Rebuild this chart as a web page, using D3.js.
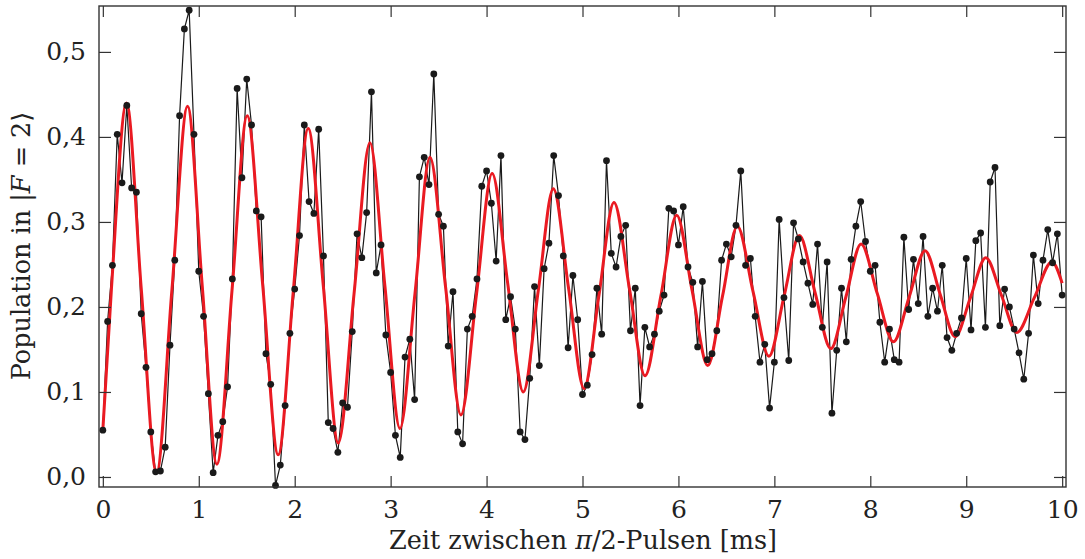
<!DOCTYPE html>
<html>
<head>
<meta charset="utf-8">
<script src="https://cdn.jsdelivr.net/npm/d3@7/dist/d3.min.js"></script>
<style>
  body { margin: 0; background: #fff; }
  svg text { font-family: "DejaVu Serif", "Liberation Serif", serif; fill: #222; }
</style>
</head>
<body>
<svg id="chart" width="1085" height="559"></svg>
<script>
// measured population, one point every 0.05 ms from 0 to 10 ms
var stepMs = 0.05;
var population = [
  0.055,0.183,0.249,0.403,0.346,0.437,0.340,0.335,0.192,0.129,
  0.053,0.006,0.007,0.035,0.155,0.255,0.425,0.527,0.549,0.403,
  0.242,0.189,0.098,0.005,0.049,0.065,0.106,0.233,0.457,0.352,
  0.468,0.414,0.313,0.306,0.145,0.109,-0.010,0.014,0.084,0.169,
  0.221,0.284,0.414,0.324,0.310,0.409,0.260,0.064,0.057,0.029,
  0.087,0.082,0.171,0.286,0.258,0.311,0.453,0.240,0.273,0.167,
  0.123,0.049,0.023,0.141,0.162,0.091,0.353,0.376,0.344,0.474,
  0.309,0.295,0.154,0.218,0.053,0.039,0.174,0.189,0.233,0.342,
  0.360,0.322,0.254,0.378,0.185,0.212,0.174,0.053,0.044,0.116,
  0.224,0.131,0.245,0.275,0.378,0.331,0.260,0.152,0.237,0.185,
  0.097,0.108,0.144,0.222,0.168,0.372,0.263,0.247,0.283,0.296,
  0.172,0.222,0.084,0.176,0.153,0.168,0.195,0.214,0.316,0.313,
  0.273,0.318,0.247,0.229,0.153,0.230,0.138,0.145,0.172,0.255,
  0.274,0.259,0.296,0.360,0.249,0.257,0.189,0.135,0.156,0.081,
  0.135,0.303,0.211,0.137,0.299,0.280,0.253,0.228,0.203,0.274,
  0.176,0.253,0.075,0.149,0.222,0.159,0.256,0.295,0.324,0.277,
  0.242,0.249,0.182,0.135,0.174,0.138,0.135,0.282,0.197,0.256,
  0.204,0.283,0.189,0.222,0.195,0.249,0.164,0.149,0.169,0.187,
  0.257,0.173,0.278,0.287,0.176,0.347,0.364,0.178,0.221,0.200,
  0.174,0.146,0.115,0.169,0.261,0.204,0.255,0.291,0.252,0.286,
  0.214
];

// fitted curve, read at its extrema and crossings
var fitTime = [0,0.09,0.247,0.40,0.56,0.72,0.883,1.036,1.189,1.347,1.505,1.667,1.828,1.985,
  2.141,2.298,2.454,2.619,2.784,2.94,3.097,3.254,3.41,3.572,3.733,3.895,4.058,4.22,4.383,
  4.54,4.696,4.856,5.016,5.172,5.328,5.49,5.652,5.817,5.982,6.143,6.305,6.46,6.614,6.778,
  6.943,7.102,7.261,7.424,7.588,7.746,7.904,8.072,8.241,8.406,8.571,8.728,8.884,9.044,
  9.204,9.366,9.527,9.71,9.893,10];
var fitValue = [0.055,0.222,0.440,0.222,0.005,0.220,0.436,0.225,0.015,0.220,0.425,0.225,0.026,0.218,
  0.410,0.225,0.040,0.216,0.393,0.225,0.057,0.216,0.376,0.224,0.073,0.215,0.357,0.228,0.100,
  0.220,0.339,0.221,0.104,0.214,0.323,0.221,0.119,0.213,0.308,0.219,0.131,0.213,0.295,0.218,
  0.142,0.213,0.284,0.217,0.151,0.212,0.274,0.216,0.159,0.212,0.266,0.215,0.165,0.211,
  0.258,0.214,0.170,0.211,0.253,0.228];

var xTicks = [0,1,2,3,4,5,6,7,8,9,10];
var yTicks = [0,0.1,0.2,0.3,0.4,0.5];

var pL = 99, pT = 6, pR = 1066, pB = 487;
var svg = d3.select("#chart");

var x = d3.scaleLinear().domain([-0.04, 10.04]).range([pL, pR]);
var y = d3.scaleLinear().domain([-0.0118, 0.554]).range([pB, pT]);

var de = d3.formatLocale({decimal: ",", thousands: ".", grouping: [3], currency: ["", "€"]});
var fy = de.format(".1f");

var points = population.map(function(v, i){ return {t: i*stepMs, v: v}; });
var fit = fitTime.map(function(t, i){ return {t: t, v: fitValue[i]}; });

svg.append("clipPath").attr("id", "clip")
  .append("rect").attr("x", pL).attr("y", pT - 4).attr("width", pR-pL).attr("height", pB-pT+8);

var plot = svg.append("g").attr("clip-path", "url(#clip)");

plot.append("path")
  .datum(points)
  .attr("fill", "none")
  .attr("stroke", "#1a1a1a")
  .attr("stroke-width", 1.2)
  .attr("d", d3.line().x(function(d){ return x(d.t); }).y(function(d){ return y(d.v); }));

plot.append("path")
  .datum(fit)
  .attr("fill", "none")
  .attr("stroke", "#ea1a22")
  .attr("stroke-width", 3)
  .attr("d", d3.line().curve(d3.curveMonotoneX).x(function(d){ return x(d.t); }).y(function(d){ return y(d.v); }));

plot.selectAll("circle")
  .data(points)
  .enter().append("circle")
  .attr("cx", function(d){ return x(d.t); })
  .attr("cy", function(d){ return y(d.v); })
  .attr("r", 3.4)
  .attr("fill", "#1a1a1a");

// axes, ticks pointing inward on all four sides
function styleAxis(g){
  g.select(".domain").remove();
  g.selectAll(".tick line").attr("stroke", "#333").attr("stroke-width", 1.2);
  g.selectAll(".tick text").style("font-size", "25px");
}
svg.append("g").attr("transform", "translate(0," + pB + ")")
  .call(d3.axisBottom(x).tickValues(xTicks).tickSize(-11).tickPadding(8).tickFormat(d3.format("d")))
  .call(styleAxis)
  .selectAll(".tick text").attr("dy", "0.92em");
svg.append("g").attr("transform", "translate(0," + pT + ")")
  .call(d3.axisTop(x).tickValues(xTicks).tickSize(-11).tickFormat(""))
  .call(styleAxis);
svg.append("g").attr("transform", "translate(" + pL + ",0)")
  .call(d3.axisLeft(y).tickValues(yTicks).tickSize(-12).tickPadding(13).tickFormat(fy))
  .call(styleAxis);
svg.append("g").attr("transform", "translate(" + pR + ",0)")
  .call(d3.axisRight(y).tickValues(yTicks).tickSize(-12).tickFormat(""))
  .call(styleAxis);

svg.append("rect")
  .attr("x", pL).attr("y", pT)
  .attr("width", pR-pL).attr("height", pB-pT)
  .attr("fill", "none").attr("stroke", "#333").attr("stroke-width", 1.4);

var xl = svg.append("text")
  .attr("x", 583).attr("y", 549)
  .attr("text-anchor", "middle").style("font-size", "25.5px");
xl.append("tspan").text("Zeit zwischen ");
xl.append("tspan").style("font-style", "italic").text("π");
xl.append("tspan").text("/2-Pulsen [ms]");

var yl = svg.append("text")
  .attr("transform", "translate(30,246) rotate(-90)")
  .attr("text-anchor", "middle").style("font-size", "25.5px");
yl.append("tspan").text("Population in |");
yl.append("tspan").style("font-style", "italic").text("F");
yl.append("tspan").text(" = 2⟩");
</script>
</body>
</html>
